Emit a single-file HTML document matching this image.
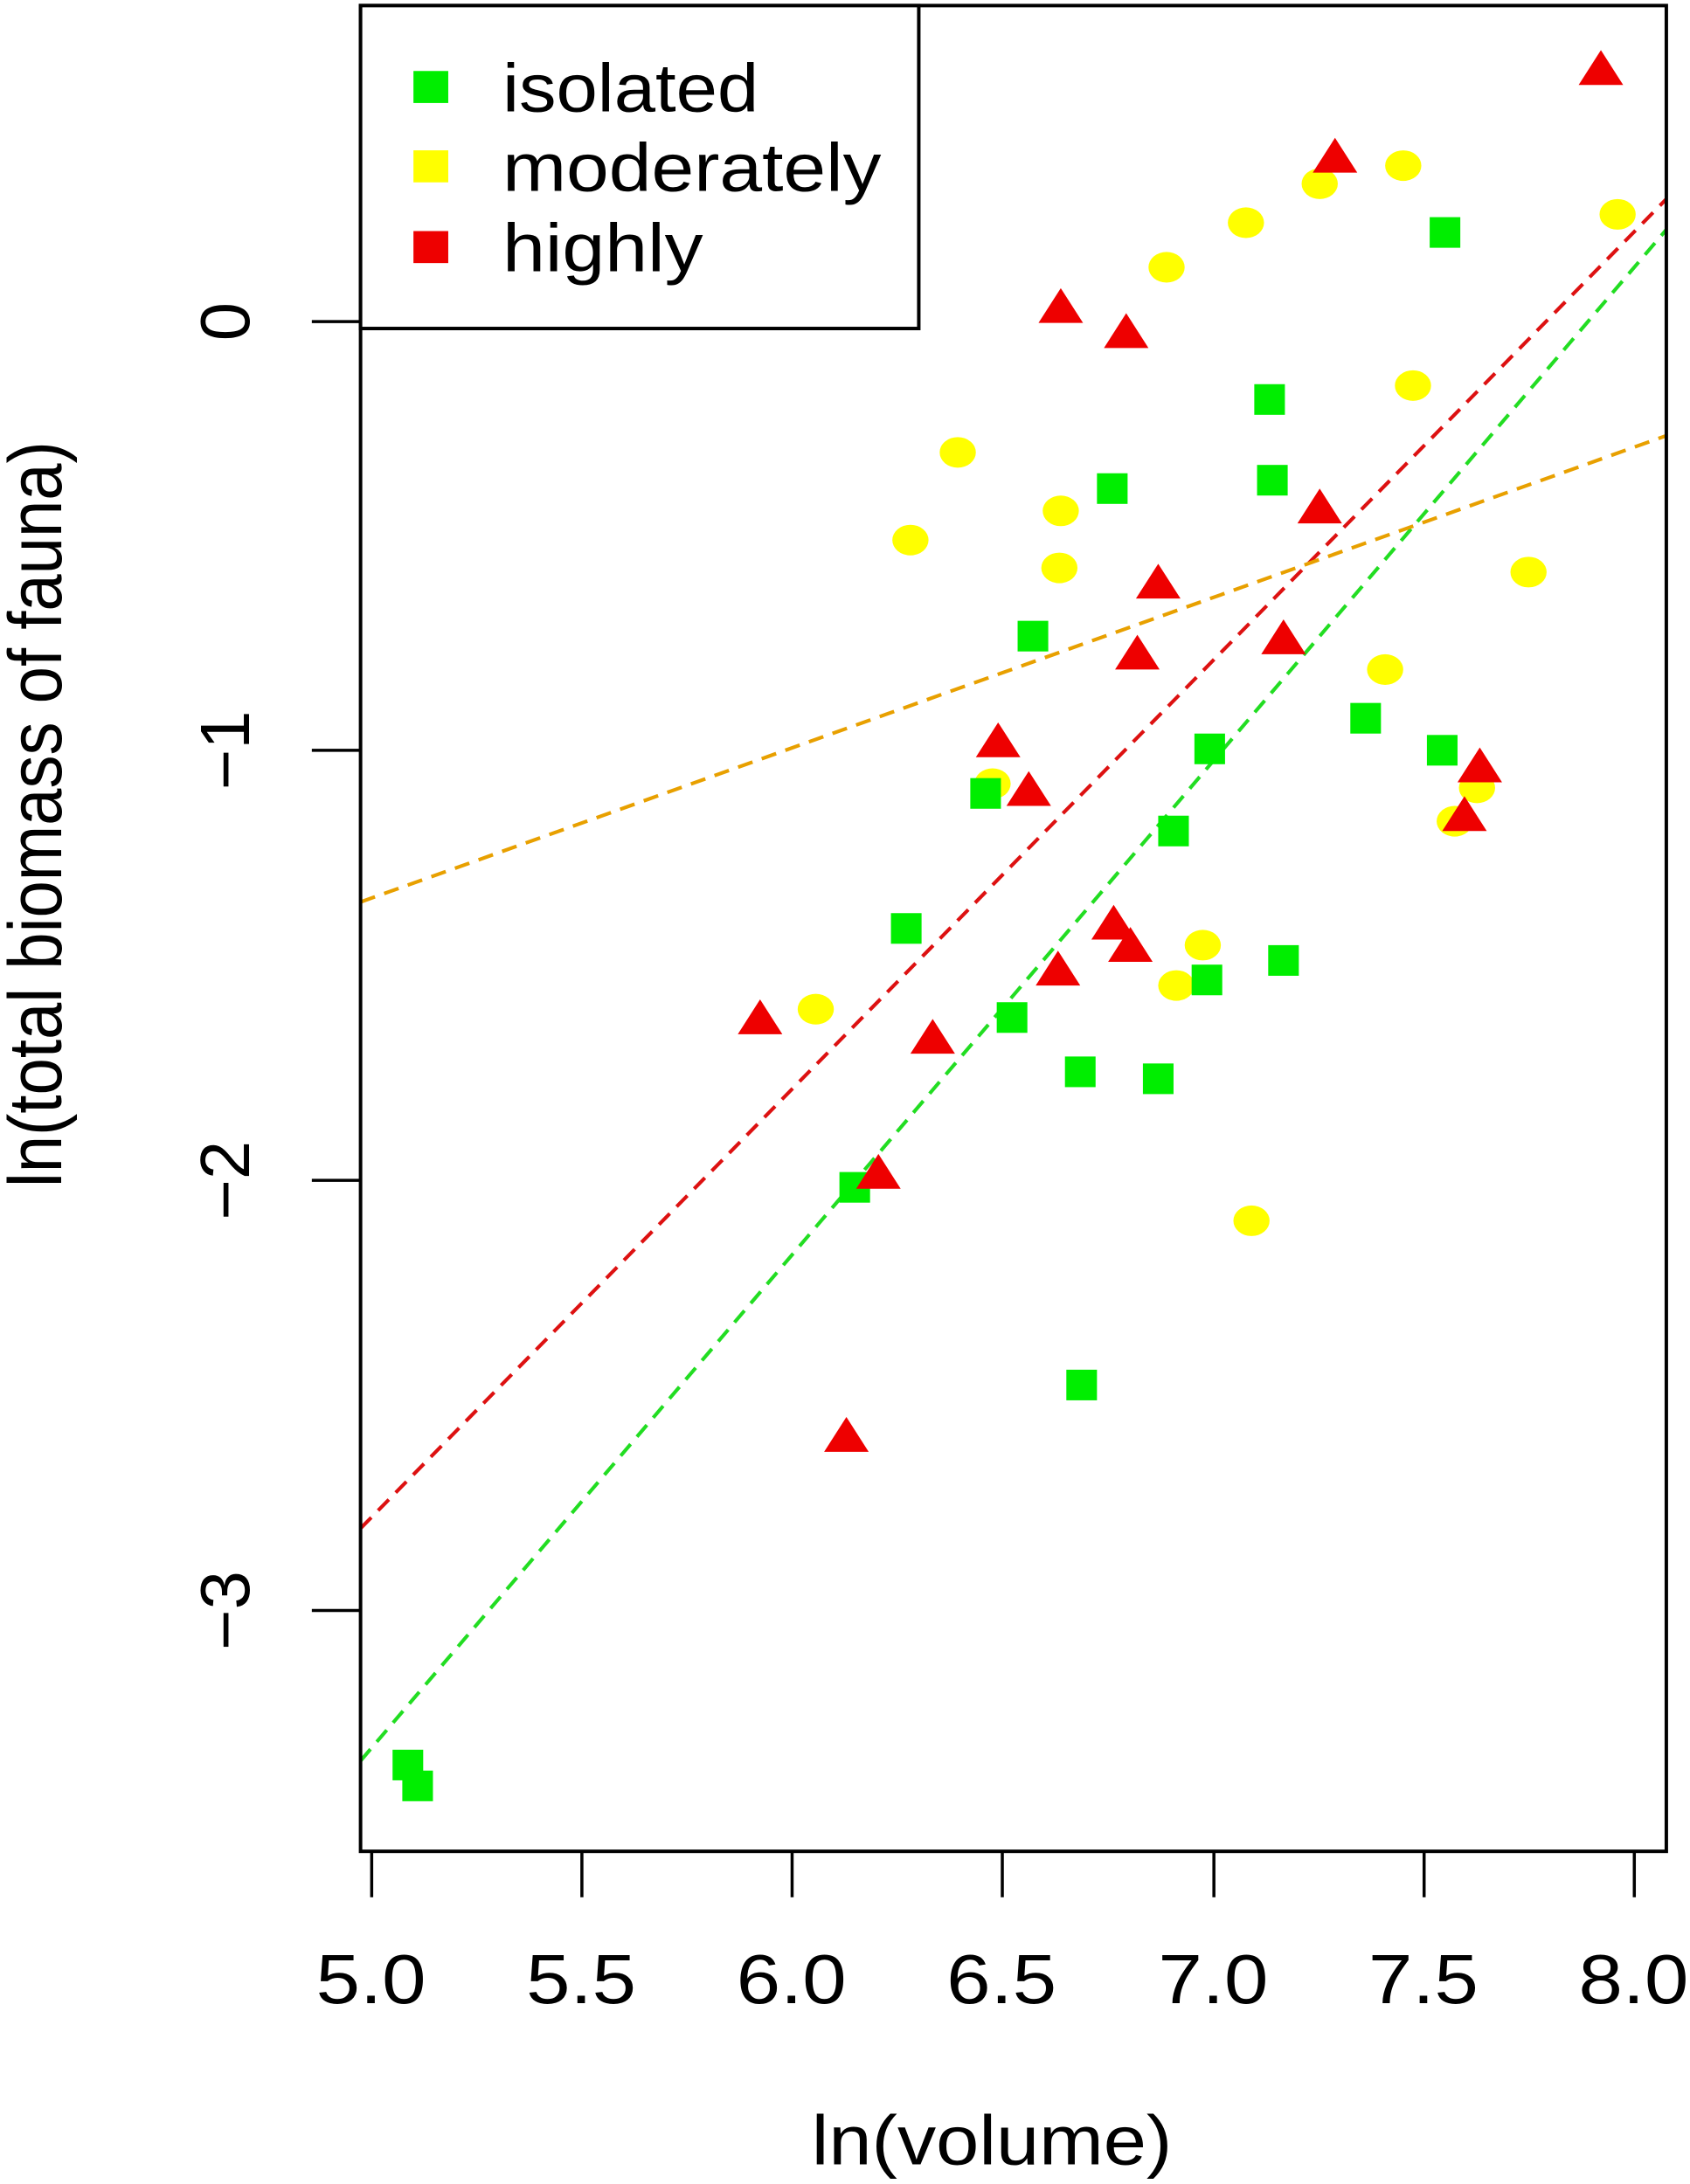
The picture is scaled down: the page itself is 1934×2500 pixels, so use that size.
<!DOCTYPE html>
<html><head><meta charset="utf-8"><style>html,body{margin:0;padding:0;background:#fff}svg{display:block}</style></head>
<body>
<svg width="1934" height="2500" viewBox="0 0 1214 1569" preserveAspectRatio="none" xmlns="http://www.w3.org/2000/svg" font-family="Liberation Sans, sans-serif">
<rect x="0" y="0" width="1214" height="1569" fill="#fff"/>
<defs><clipPath id="c"><rect x="259" y="4" width="938" height="1326"/></clipPath></defs>
<g clip-path="url(#c)" stroke-width="2.6" stroke-dasharray="11,7" fill="none">
<line x1="259" y1="1265" x2="1197" y2="165" stroke="#22dd22"/>
<line x1="259" y1="1098" x2="1197" y2="143" stroke="#dd1111"/>
<line x1="259" y1="648" x2="1197" y2="313" stroke="#e8a000"/>
</g>
<g fill="#ffff00">
<ellipse cx="586" cy="725" rx="13" ry="11"/><ellipse cx="654" cy="388" rx="13" ry="11"/><ellipse cx="688" cy="325" rx="13" ry="11"/><ellipse cx="713" cy="563" rx="13" ry="11"/><ellipse cx="761" cy="408" rx="13" ry="11"/><ellipse cx="762" cy="367" rx="13" ry="11"/><ellipse cx="838" cy="192" rx="13" ry="11"/><ellipse cx="845" cy="708" rx="13" ry="11"/><ellipse cx="864" cy="679" rx="13" ry="11"/><ellipse cx="895" cy="160" rx="13" ry="11"/><ellipse cx="899" cy="877" rx="13" ry="11"/><ellipse cx="948" cy="132" rx="13" ry="11"/><ellipse cx="995" cy="481" rx="13" ry="11"/><ellipse cx="1008" cy="119" rx="13" ry="11"/><ellipse cx="1015" cy="277" rx="13" ry="11"/><ellipse cx="1045" cy="590" rx="13" ry="11"/><ellipse cx="1061" cy="566" rx="13" ry="11"/><ellipse cx="1098" cy="411" rx="13" ry="11"/><ellipse cx="1162" cy="154" rx="13" ry="11"/>
</g>
<g fill="#00ee00">
<rect x="282" y="1257" width="22" height="22"/><rect x="289" y="1272" width="22" height="22"/><rect x="603" y="842" width="22" height="22"/><rect x="640" y="656" width="22" height="22"/><rect x="697" y="559" width="22" height="22"/><rect x="716" y="720" width="22" height="22"/><rect x="731" y="446" width="22" height="22"/><rect x="765" y="759" width="22" height="22"/><rect x="788" y="340" width="22" height="22"/><rect x="821" y="764" width="22" height="22"/><rect x="832" y="586" width="22" height="22"/><rect x="856" y="693" width="22" height="22"/><rect x="858" y="527" width="22" height="22"/><rect x="901" y="276" width="22" height="22"/><rect x="903" y="334" width="22" height="22"/><rect x="911" y="679" width="22" height="22"/><rect x="970" y="505" width="22" height="22"/><rect x="1025" y="528" width="22" height="22"/><rect x="1027" y="156" width="22" height="22"/><rect x="766" y="984" width="22" height="22"/>
</g>
<g fill="#ee0000">
<polygon points="546,718 530,743 562,743"/><polygon points="608,1018 592,1043 624,1043"/><polygon points="631,829 615,854 647,854"/><polygon points="670,732 654,757 686,757"/><polygon points="717,519 701,544 733,544"/><polygon points="739,554 723,579 755,579"/><polygon points="760,683 744,708 776,708"/><polygon points="762,207 746,232 778,232"/><polygon points="800,650 784,675 816,675"/><polygon points="809,225 793,250 825,250"/><polygon points="812,666 796,691 828,691"/><polygon points="817,456 801,481 833,481"/><polygon points="832,405 816,430 848,430"/><polygon points="922,445 906,470 938,470"/><polygon points="948,351 932,376 964,376"/><polygon points="959,99 943,124 975,124"/><polygon points="1052,572 1036,597 1068,597"/><polygon points="1063,537 1047,562 1079,562"/><polygon points="1150,36 1134,61 1166,61"/>
</g>
<rect x="259" y="4" width="938" height="1326" fill="none" stroke="#000" stroke-width="2.5"/>
<rect x="259" y="4" width="401" height="232" fill="#fff" stroke="#000" stroke-width="2.5"/>
<rect x="297" y="51" width="25" height="23" fill="#00ee00"/>
<rect x="297" y="108" width="25" height="23" fill="#ffff00"/>
<rect x="297" y="166" width="25" height="23" fill="#ee0000"/>
<g font-size="49" fill="#000">
<text x="361" y="80" textLength="184" lengthAdjust="spacingAndGlyphs">isolated</text>
<text x="361" y="137" textLength="272" lengthAdjust="spacingAndGlyphs">moderately</text>
<text x="361" y="195" textLength="144" lengthAdjust="spacingAndGlyphs">highly</text>
</g>
<g stroke="#000" stroke-width="2.2">
<line x1="267" y1="1330" x2="267" y2="1363"/><line x1="418" y1="1330" x2="418" y2="1363"/><line x1="569" y1="1330" x2="569" y2="1363"/><line x1="720" y1="1330" x2="720" y2="1363"/><line x1="872" y1="1330" x2="872" y2="1363"/><line x1="1023" y1="1330" x2="1023" y2="1363"/><line x1="1174" y1="1330" x2="1174" y2="1363"/>
<line x1="224" y1="231" x2="259" y2="231"/><line x1="224" y1="539" x2="259" y2="539"/><line x1="224" y1="848" x2="259" y2="848"/><line x1="224" y1="1157" x2="259" y2="1157"/>
</g>
<g font-size="50" fill="#000">
<text x="227" y="1439" textLength="79" lengthAdjust="spacingAndGlyphs">5.0</text>
<text x="378" y="1439" textLength="79" lengthAdjust="spacingAndGlyphs">5.5</text>
<text x="529" y="1439" textLength="79" lengthAdjust="spacingAndGlyphs">6.0</text>
<text x="680" y="1439" textLength="79" lengthAdjust="spacingAndGlyphs">6.5</text>
<text x="832" y="1439" textLength="79" lengthAdjust="spacingAndGlyphs">7.0</text>
<text x="983" y="1439" textLength="79" lengthAdjust="spacingAndGlyphs">7.5</text>
<text x="1134" y="1439" textLength="79" lengthAdjust="spacingAndGlyphs">8.0</text>
<text x="583" y="1555" textLength="259" lengthAdjust="spacingAndGlyphs">ln(volume)</text>
</g>
<g font-size="50" text-anchor="middle" fill="#000">
<text transform="translate(179,231) rotate(-90)">0</text>
<text transform="translate(179,539) rotate(-90)">−1</text>
<text transform="translate(179,848) rotate(-90)">−2</text>
<text transform="translate(179,1157) rotate(-90)">−3</text>
</g>
<text transform="translate(44,853) rotate(-90)" font-size="54" textLength="536" lengthAdjust="spacingAndGlyphs" fill="#000">ln(total biomass of fauna)</text>
</svg>
</body></html>
